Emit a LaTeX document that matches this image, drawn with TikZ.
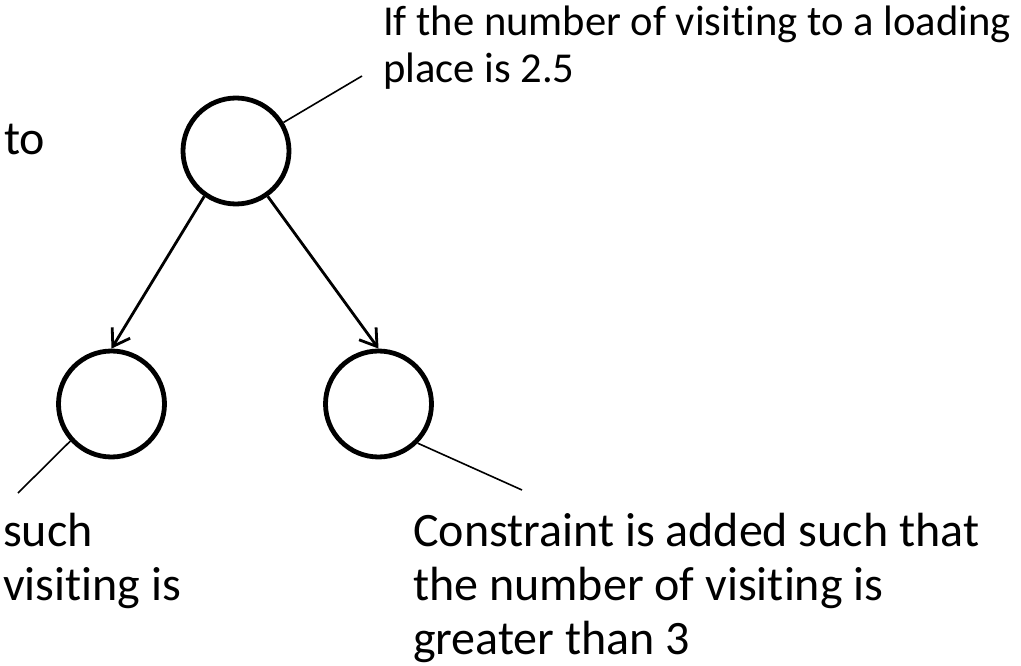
\documentclass[tikz,border=0pt]{standalone}
\usepackage{fontspec}
\setmainfont[Ligatures=NoCommon]{Carlito}
\usetikzlibrary{arrows.meta}
\begin{document}
\begin{tikzpicture}[x=1pt,y=-1pt,
  treenode/.style={circle,draw,line width=4.8pt,minimum size=106pt,inner sep=0pt},
  branch/.style={line width=2.8pt,-{Straight Barb[length=16pt,width=21pt,line width=2.8pt]}},
  callout/.style={line width=1.6pt},
  bigtext/.style={anchor=base west,inner sep=0pt,align=left,font=\fontsize{48}{54}\selectfont},
  toptext/.style={anchor=base west,inner sep=0pt,align=left,font=\fontsize{42.6}{47}\selectfont}]
\useasboundingbox (0,0) rectangle (1021,666);
\node[treenode] (top) at (236,151) {};
\node[treenode] (left) at (111.5,404) {};
\node[treenode] (right) at (378.5,404) {};
\draw[branch] (top.235) -- (left.north);
\draw[branch] (top.305) -- (right.north);
\coordinate (ctop) at (362,76);
\coordinate (cleft) at (18,493);
\coordinate (cright) at (522,490);
\draw[callout] (top.31) -- (ctop);
\draw[callout] (left.222) -- (cleft);
\draw[callout] (right.315) -- (cright);
\node[toptext] (ttop) at (383,83) {If the number of visiting to a loading\\place is 2.5};
\node[bigtext] (tto) at (4,155) {to};
\node[bigtext] (tleft) at (3,600) {such\\visiting is};
\node[bigtext] (tright) at (413,654) {Constraint is added such that\\the number of visiting is\\greater than 3};
\end{tikzpicture}
\end{document}
